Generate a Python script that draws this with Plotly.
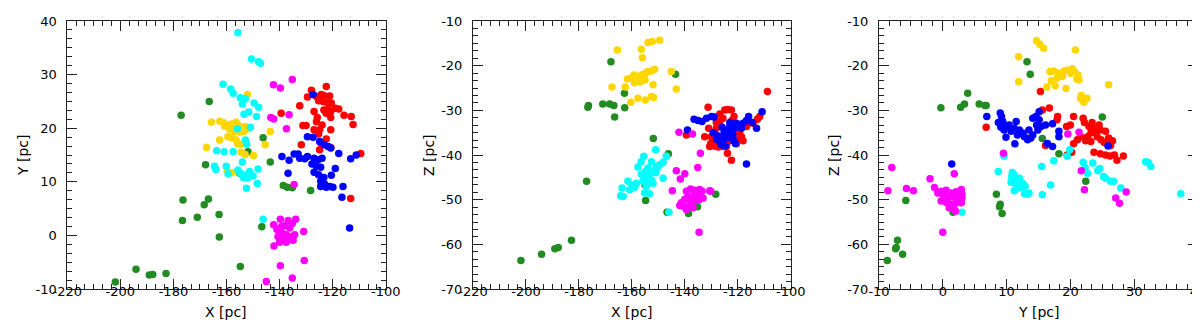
import plotly.graph_objects as go

# ---------------- data ----------------
# green stars (3D, consistent across panels)
green_x = [-201.9, -194.1, -189.1, -187.8, -182.8, -177.1, -176.4, -176.6, -171.0, -168.4, -166.8, -167.9, -166.5,
           -162.8, -162.7, -155.0, -151.9, -154.8, -146.2, -146.7, -143.5, -138.6, -137.1, -135.2, -128.3]
green_y = [-8.7, -6.3, -7.4, -7.3, -7.1, 22.4, 6.6, 2.8, 3.4, 5.7, 6.8, 13.2, 25.0,
           3.9, -0.3, 11.6, 15.6, -5.8, 18.2, 1.6, 13.7, 9.3, 9.0, 8.9, 8.4]
green_z = [-63.6, -62.2, -61.0, -60.7, -59.1, -45.9, -28.9, -29.3, -28.6, -28.6, -28.9, -19.1, -31.5,
           -26.2, -29.4, -46.7, -36.3, -50.2, -39.7, -52.8, -21.9, -53.1, -51.0, -51.6, -48.8]

# ---- panel 1 : X vs Y ----
p1_red_x = [-122.4, -128.0, -129.5, -126.1, -124.3, -123.3, -121.1, -125.3, -123.6, -122.0, -120.5, -119.0, -117.7,
            -132.4, -123.3, -121.7, -120.7, -127.0, -122.4, -125.8, -120.7, -115.7, -113.0, -126.1, -131.2, -130.0,
            -112.3, -124.0, -127.0, -124.9, -120.7, -125.3, -122.4, -131.8, -124.3, -124.9, -120.7, -109.4, -113.2, -139.4]
p1_red_y = [27.8, 27.1, 25.8, 25.9, 26.3, 26.1, 26.0, 25.1, 25.0, 24.8, 24.7, 23.7, 23.6,
            24.2, 23.4, 23.6, 23.1, 23.1, 22.8, 22.0, 22.0, 22.4, 22.2, 21.2, 20.5, 20.5,
            20.7, 20.6, 19.7, 19.7, 19.7, 18.9, 18.0, 16.9, 17.2, 16.0, 16.4, 15.3, 6.9, 22.8]

p1_blue_x = [-127.4, -129.5, -127.4, -124.9, -123.2, -121.7, -120.7, -117.7, -132.4, -129.5, -127.0, -125.5, -124.0,
             -113.2, -111.1, -127.8, -126.1, -124.5, -127.0, -125.3, -123.3, -119.0, -120.5, -124.5, -123.0, -124.5,
             -122.4, -121.1, -119.9, -116.1, -116.5, -139.1, -136.4, -136.8, -134.5, -133.0, -130.5, -113.6]
p1_blue_y = [26.3, 18.4, 18.3, 17.5, 16.9, 16.6, 16.3, 15.3, 14.4, 14.7, 14.4, 14.1, 14.4,
             14.3, 15.0, 13.3, 12.9, 12.7, 11.8, 11.3, 10.8, 12.5, 11.2, 10.1, 9.6, 9.1,
             9.0, 9.1, 9.0, 9.1, 7.1, 14.7, 14.0, 11.6, 15.2, 15.2, 14.3, 1.4]

p1_gold_x = [-152.1, -165.7, -162.5, -161.0, -159.5, -158.0, -156.4, -155.5, -154.5, -153.0, -152.3, -160.7, -158.8,
             -157.0, -155.0, -153.5, -162.6, -159.5, -158.0, -156.4, -155.8, -167.5, -145.4, -143.5, -149.8, -154.5,
             -153.0, -159.7, -157.9, -156.0, -154.7]
p1_gold_y = [26.3, 21.1, 21.3, 21.0, 20.6, 20.8, 21.1, 20.5, 20.2, 20.3, 19.8, 20.4, 19.8,
             19.4, 19.3, 19.4, 17.8, 18.4, 18.2, 17.8, 17.1, 16.4, 16.9, 19.4, 14.9, 15.5,
             15.1, 12.0, 11.7, 19.9, 17.0]

p1_cyan_x = [-155.7, -150.6, -147.9, -147.2, -161.3, -158.4, -157.5, -154.8, -152.9, -154.0, -149.6, -147.9, -151.6,
             -153.4, -148.7, -155.9, -151.0, -163.7, -160.9, -152.9, -152.4, -157.5, -154.0, -164.5, -164.0, -160.1,
             -159.4, -155.7, -154.7, -153.7, -152.3, -151.3, -150.0, -148.1, -151.9, -148.4, -152.5, -146.2]
p1_cyan_y = [37.8, 32.9, 32.4, 32.1, 28.2, 27.3, 26.5, 25.7, 25.5, 24.5, 24.7, 23.9, 23.0,
             22.6, 22.2, 19.9, 20.2, 15.8, 15.6, 17.8, 17.0, 15.6, 13.7, 12.9, 12.3, 12.9,
             11.5, 12.2, 11.6, 10.8, 11.3, 11.9, 11.1, 12.4, 10.7, 9.7, 8.8, 3.0]

p1_mag_x = [-142.3, -139.7, -135.2, -142.2, -143.3, -136.4, -137.4, -134.5, -145.0, -135.2, -139.7, -130.7, -142.1,
            -130.9, -142.2, -139.7, -136.8, -133.9, -141.0, -139.3, -138.1, -135.2, -136.2, -139.0, -137.5, -140.6,
            -138.5, -136.2, -134.3, -134.9, -137.5, -140.0]
p1_mag_y = [28.1, 27.5, 29.1, 21.7, 22.0, 22.5, 19.9, 9.5, -8.6, -7.95, -5.65, -4.7, -2.0,
            0.75, 2.0, 3.0, 2.8, 3.0, 1.1, 1.6, 1.8, 2.2, 1.4, 0.4, 0.1, -0.2,
            -0.5, -0.2, 0.1, -0.9, -1.3, -1.3]

# ---- panel 2 : X vs Z ----
p2_red_x = [-108.8, -131.2, -123.9, -122.4, -121.4, -122.2, -125.6, -126.8, -111.7, -112.6, -114.2, -116.7, -131.0,
            -128.1, -128.7, -139.4, -132.5, -119.3, -118.6, -118.0, -119.9, -130.2, -128.9, -127.4, -125.9, -124.3,
            -130.6, -120.5, -123.9, -122.4, -130.0, -124.9, -123.6, -116.1, -126.8, -120.9, -118.0, -128.1, -124.9]
p2_red_z = [-25.8, -29.3, -29.8, -29.9, -31.4, -32.3, -31.8, -32.5, -31.4, -32.0, -32.9, -33.6, -34.0,
            -34.0, -35.1, -35.5, -35.9, -35.1, -35.9, -36.8, -36.6, -37.4, -38.0, -38.2, -38.1, -38.1,
            -38.1, -37.5, -39.6, -41.2, -35.9, -35.9, -37.0, -32.7, -30.8, -34.7, -33.5, -32.7, -29.9]

p2_blue_x = [-110.8, -112.9, -116.7, -136.5, -135.0, -133.5, -131.8, -129.9, -128.9, -139.0, -129.3, -115.9, -116.7,
             -118.0, -119.3, -120.5, -121.4, -125.9, -124.9, -123.6, -123.0, -122.4, -124.3, -125.6, -126.8, -126.2,
             -124.7, -123.6, -121.8, -120.9, -118.6, -114.6, -125.2, -123.0, -127.7, -128.0, -121.5]
p2_blue_z = [-30.3, -34.0, -42.0, -32.0, -32.3, -32.5, -31.8, -31.4, -31.5, -34.4, -35.0, -31.4, -32.3,
             -32.9, -33.6, -32.9, -34.0, -33.8, -34.5, -34.7, -33.6, -35.9, -36.2, -36.6, -37.0, -37.7,
             -38.0, -35.9, -35.5, -37.4, -34.0, -32.7, -35.1, -32.7, -35.7, -36.5, -36.8]

p2_gold_x = [-165.5, -156.4, -156.0, -153.9, -152.3, -149.5, -167.5, -162.5, -161.7, -160.4, -159.2, -157.7, -156.4,
             -154.9, -153.9, -152.6, -151.4, -158.2, -156.7, -155.0, -159.0, -152.0, -145.1, -143.2, -160.4, -157.7,
             -154.9, -152.6, -151.8]
p2_gold_z = [-16.5, -16.3, -18.2, -14.8, -14.6, -14.3, -24.8, -24.8, -23.0, -22.8, -22.1, -22.4, -22.1,
             -21.7, -21.3, -21.2, -20.8, -23.4, -23.6, -23.2, -23.8, -24.3, -21.3, -25.2, -28.2, -27.3,
             -27.7, -26.9, -27.1]

p2_cyan_x = [-151.0, -147.0, -155.5, -152.6, -148.2, -149.5, -150.7, -157.7, -153.9, -154.9, -153.3, -151.6, -150.4,
             -156.4, -155.2, -153.9, -152.6, -155.8, -154.1, -152.0, -148.2, -161.5, -159.9, -158.9, -160.8, -158.3,
             -163.7, -164.2, -163.3, -155.2, -153.3, -146.0, -154.5, -151.0, -156.5]
p2_cyan_z = [-38.8, -40.3, -40.3, -41.5, -41.6, -42.2, -42.6, -42.7, -42.9, -43.7, -44.1, -43.5, -42.9,
             -44.3, -45.2, -44.8, -45.6, -45.9, -46.3, -46.3, -45.2, -45.9, -46.7, -47.2, -47.8, -46.3,
             -47.4, -49.1, -49.3, -48.5, -48.7, -52.8, -47.0, -44.0, -41.5]

p2_mag_x = [-142.2, -137.1, -134.1, -143.2, -141.7, -140.0, -135.1, -144.7, -134.6, -130.6,
            -139.4, -137.8, -136.3, -134.4, -133.5, -130.2, -135.2, -136.9, -138.8, -140.0, -138.1, -136.5, -134.7,
            -133.1, -141.3, -141.9, -140.3, -138.5, -136.9, -139.4]
p2_mag_z = [-34.9, -35.3, -39.6, -43.5, -45.4, -44.2, -42.8, -48.0, -57.3, -48.0,
            -48.1, -47.6, -47.9, -47.7, -48.1, -48.1, -48.8, -49.2, -49.4, -49.9, -50.1, -50.3, -50.1,
            -49.6, -50.7, -51.3, -51.6, -51.4, -51.8, -52.2]

# ---- panel 3 : Y vs Z ----
p3_red_y = [15.3, 6.8, 15.6, 16.7, 18.0, 17.9, 16.1, 19.5, 19.4, 20.0, 20.5, 20.5, 20.2, 22.0, 22.2, 22.9, 23.4,
            23.7, 24.0, 23.2, 22.7, 22.4, 24.2, 24.7, 24.8, 25.3, 25.8, 26.3, 26.0, 26.6, 25.5, 24.5, 23.2, 23.7,
            24.7, 25.5, 26.2, 26.9, 28.3, 27.3, 21.1, 21.6]
p3_red_z = [-25.8, -33.8, -29.9, -29.5, -31.4, -32.1, -37.9, -40.0, -33.6, -33.3, -31.4, -37.5, -39.4, -31.8, -32.7,
            -33.6, -32.7, -34.0, -35.1, -35.1, -35.9, -36.8, -35.9, -34.4, -36.6, -37.2, -37.5, -37.9, -36.2, -36.8,
            -34.7, -33.3, -37.0, -39.4, -39.7, -40.0, -40.2, -40.0, -40.2, -41.2, -36.6, -35.9]

p3_blue_y = [6.9, 9.0, 9.2, 8.7, 9.4, 9.1, 9.9, 10.4, 9.6, 10.7, 11.2, 11.5, 11.7, 12.0, 12.5, 12.8, 13.3, 13.8,
             14.1, 13.5, 14.1, 14.6, 15.1, 14.7, 15.4, 15.1, 14.9, 16.1, 17.2, 9.9, 11.3, 18.2, 18.2, 16.4, 17.2,
             25.9, 1.4]
p3_blue_z = [-31.4, -30.6, -31.4, -32.7, -32.5, -33.8, -33.6, -33.3, -34.4, -34.7, -34.0, -32.5, -35.5, -34.4,
             -35.1, -35.9, -36.6, -36.2, -35.5, -34.4, -31.8, -31.4, -32.1, -33.3, -33.6, -30.3, -34.4, -33.3,
             -33.0, -36.0, -37.5, -34.7, -35.9, -37.4, -38.1, -38.0, -42.0]

p3_gold_y = [14.7, 15.2, 15.8, 20.8, 11.9, 11.9, 16.3, 19.3, 26.0, 16.8, 17.4, 18.2, 17.9, 17.0, 17.6, 19.0, 19.5,
             20.05, 20.6, 20.3, 21.2, 21.0, 21.35, 18.75, 21.7, 21.9, 22.1, 22.6, 21.6]
p3_gold_z = [-14.4, -15.2, -16.1, -16.5, -18.0, -23.6, -24.8, -25.1, -24.3, -21.3, -21.2, -21.7, -22.8, -23.4,
             -24.5, -21.2, -21.0, -21.7, -21.3, -20.7, -22.1, -23.0, -23.2, -22.4, -26.7, -27.7, -28.2, -27.3, -27.3]

p3_cyan_y = [9.6, 8.7, 10.9, 11.2, 10.8, 11.35, 11.1, 10.7, 11.5, 12.1, 12.5, 12.0, 12.9, 13.3, 11.2, 12.8, 13.5,
             15.5, 15.6, 16.9, 17.4, 19.5, 19.9, 22.0, 22.3, 22.7, 23.5, 24.3, 24.6, 25.2, 25.5, 26.3, 26.8, 27.9,
             31.8, 32.2, 32.6, 37.3, 3.0]
p3_cyan_z = [-40.3, -43.7, -43.9, -44.4, -44.8, -45.2, -45.9, -46.1, -46.7, -47.4, -46.3, -45.2, -47.0, -48.8,
             -48.0, -48.7, -48.5, -42.6, -48.9, -46.7, -41.3, -40.3, -38.8, -41.6, -42.8, -44.1, -41.8, -43.5,
             -43.0, -44.8, -45.2, -45.9, -45.9, -47.4, -41.5, -41.7, -42.6, -48.7, -52.8]

p3_mag_y = [-8.0, -8.6, -5.7, -4.6, -2.0, 1.8, 0.0, 9.5, 19.6, 21.35, 21.7, 22.2, 27.1, 27.7, 28.75, -1.3,
            -0.78, -0.26, 0.52, 1.3, 2.1, 2.9, 3.0, 0.1, 0.8, 1.6, 2.3, 3.0, -0.26, 0.6, 1.3, 2.1, 2.9, 1.7, 1.0, 2.0]
p3_mag_z = [-42.8, -48.0, -47.5, -48.0, -45.3, -44.2, -57.3, -39.6, -35.3, -34.9, -43.5, -47.8, -49.6, -50.8,
            -48.3, -47.3, -48.5, -48.1, -47.9, -48.5, -48.2, -47.7, -48.8, -49.0, -49.6, -49.4, -49.6, -49.7,
            -50.3, -50.7, -51.1, -50.7, -50.7, -51.7, -51.8, -52.6]

# tick labels
x_ticks = [-220, -200, -180, -160, -140, -120, -100]
y_ticks = [-10, 0, 10, 20, 30, 40]
z_ticks = [-70, -60, -50, -40, -30, -20, -10]

# axis titles
x_titles = ["X [pc]", "X [pc]", "Y [pc]"]
y_titles = ["Y [pc]", "Z [pc]", "Z [pc]"]

colors = {"green": "#228B22", "red": "#FF0000", "blue": "#0000FF",
          "gold": "#FFD700", "cyan": "#00FFFF", "magenta": "#FF00FF"}

panels = [
    ("x", "y", [("green", green_x, green_y), ("red", p1_red_x, p1_red_y), ("blue", p1_blue_x, p1_blue_y),
                ("gold", p1_gold_x, p1_gold_y), ("cyan", p1_cyan_x, p1_cyan_y), ("magenta", p1_mag_x, p1_mag_y)]),
    ("x2", "y2", [("green", green_x, green_z), ("red", p2_red_x, p2_red_z), ("blue", p2_blue_x, p2_blue_z),
                  ("gold", p2_gold_x, p2_gold_z), ("cyan", p2_cyan_x, p2_cyan_z), ("magenta", p2_mag_x, p2_mag_z)]),
    ("x3", "y3", [("green", green_y, green_z), ("red", p3_red_y, p3_red_z), ("blue", p3_blue_y, p3_blue_z),
                  ("gold", p3_gold_y, p3_gold_z), ("cyan", p3_cyan_y, p3_cyan_z), ("magenta", p3_mag_y, p3_mag_z)]),
]

fig = go.Figure()
for xa, ya, groups in panels:
    for name, a, b in groups:
        fig.add_trace(go.Scatter(x=a, y=b, mode="markers", xaxis=xa, yaxis=ya, showlegend=False,
                                 marker=dict(size=7.5, color=colors[name], line=dict(width=0))))

W, H = 1200.0, 320.0
T, B = 13, 39
PH = H - T - B
domains = [(59.3 / W, 377.7 / W), (465 / W, 782.7 / W), (871 / W, 1190 / W)]
tickfont = dict(family="DejaVu Sans", size=13, color="black")
titlefont = dict(family="DejaVu Sans", size=14, color="black")


def axis(rng, ticks, minor_dtick, domain, anchor, is_x):
    return dict(range=rng, tickvals=ticks, ticktext=[str(t) for t in ticks],
                ticks="inside", ticklen=10, tickwidth=1, tickcolor="#222222",
                minor=dict(ticks="inside", ticklen=5, tickwidth=1, tickcolor="#222222",
                           dtick=minor_dtick, tick0=ticks[0]),
                showline=True, linecolor="#222222", linewidth=1, mirror="allticks",
                showgrid=False, zeroline=False, tickfont=tickfont, automargin=False,
                ticklabelstandoff=(-10 if is_x else 7),
                domain=domain, anchor=anchor)


fig.update_layout(
    width=1200, height=320, plot_bgcolor="white", paper_bgcolor="white",
    margin=dict(l=0, r=0, t=T, b=B),
    xaxis=axis([-220, -100], x_ticks, 20 / 6, domains[0], "y", True),
    yaxis=axis([-10, 40], y_ticks, 10 / 6, [0, 1], "x", False),
    xaxis2=axis([-220, -100], x_ticks, 20 / 6, domains[1], "y2", True),
    yaxis2=axis([-70, -10], z_ticks, 10 / 6, [0, 1], "x2", False),
    xaxis3=axis([-10, 40], y_ticks, 10 / 6, domains[2], "y3", True),
    yaxis3=axis([-70, -10], z_ticks, 10 / 6, [0, 1], "x3", False),
)

# axis titles as annotations (paper coords)
ytitle_px = [15, 421, 826]
for i in range(3):
    d0, d1 = domains[i]
    fig.add_annotation(text=x_titles[i], xref="paper", yref="paper", x=(d0 + d1) / 2,
                       y=(H - B - 304) / PH, xanchor="center", yanchor="middle",
                       showarrow=False, font=titlefont)
    fig.add_annotation(text=y_titles[i], xref="paper", yref="paper", x=ytitle_px[i] / W,
                       y=0.5, xanchor="center", yanchor="middle", textangle=-90,
                       showarrow=False, font=titlefont)

fig.write_html("out.html")
